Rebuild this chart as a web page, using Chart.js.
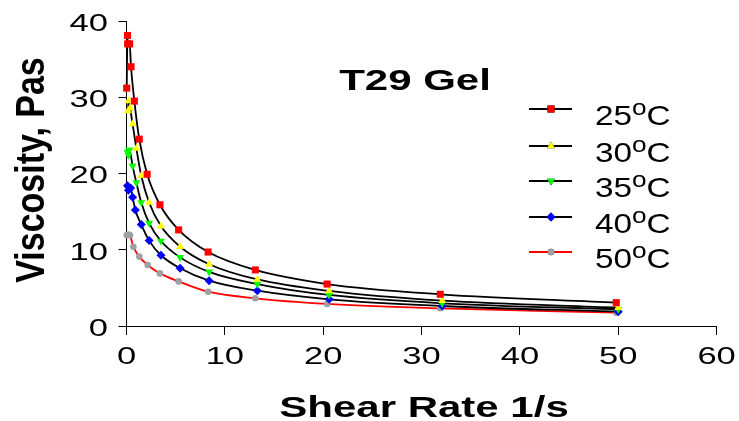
<!DOCTYPE html>
<html>
<head>
<meta charset="utf-8">
<script src="https://cdn.jsdelivr.net/npm/chart.js@4"></script>
<style>
    html, body { margin: 0; padding: 0; background: #fff; }
    #box { width: 739px; height: 421px; position: relative; }
</style>
</head>
<body>
<div id="box"><canvas id="graficoViscosidade"></canvas></div>
<script>
// shear rate (1/s) and viscosity (Pa.s) for each temperature
const shear25 = [0.02, 0.1, 0.12, 0.32, 0.46, 0.8, 1.3, 2.1, 3.4, 5.3, 8.3, 13.1, 20.4, 31.9, 49.8];
const visc25 = [31.2, 38.1, 37.0, 37.0, 34.0, 29.5, 24.5, 19.9, 15.9, 12.6, 9.7, 7.35, 5.5, 4.16, 3.06];

const shear30 = [0.15, 0.2, 0.36, 0.62, 1.0, 1.5, 2.3, 3.5, 5.45, 8.4, 13.3, 20.6, 32.1, 50];
const visc30 = [28.2, 29.5, 28.6, 26.5, 23.3, 19.7, 16.2, 13.1, 10.4, 8.1, 6.1, 4.6, 3.32, 2.4];

const shear35 = [0.1, 0.2, 0.3, 0.62, 1.0, 1.5, 2.3, 3.5, 5.45, 8.4, 13.3, 20.6, 32.1, 50];
const visc35 = [22.8, 22.4, 23.1, 21.0, 18.8, 16.2, 13.5, 11.15, 9.0, 7.1, 5.5, 4.07, 2.98, 2.2];

const shear40 = [0.1, 0.2, 0.42, 0.62, 0.9, 1.5, 2.3, 3.5, 5.45, 8.4, 13.3, 20.6, 32.1, 50];
const visc40 = [18.4, 17.8, 18.1, 16.9, 15.2, 13.3, 11.2, 9.28, 7.58, 5.95, 4.63, 3.5, 2.62, 1.88];

const shear50 = [0.03, 0.2, 0.35, 0.7, 1.3, 2.15, 3.4, 5.3, 8.3, 13.1, 20.4, 31.9, 49.8];
const visc50 = [11.9, 12.0, 11.9, 10.4, 9.1, 8.0, 6.9, 5.85, 4.5, 3.63, 2.9, 2.32, 1.75];

const temperatures = ['25', '30', '35', '40', '50'];
const xTicks = [0, 10, 20, 30, 40, 50, 60];
const yTicks = [0, 10, 20, 30, 40];

const FONT = '"Liberation Sans", Arial, sans-serif';

function pares(xs, ys) {
    return xs.map((x, i) => ({ x: x, y: ys[i] }));
}

function serie(label, xs, ys, lineColor, markerColor, style, radius, rotation) {
    return {
        label: label,
        data: pares(xs, ys),
        borderColor: lineColor,
        borderWidth: 1.8,
        cubicInterpolationMode: 'monotone',
        pointStyle: style,
        pointRadius: radius,
        pointRotation: rotation || 0,
        pointBackgroundColor: markerColor,
        pointBorderWidth: 0,
        clip: false
    };
}

// text squeezed/widened horizontally
function texto(ctx, str, x, y, sx, align) {
    ctx.save();
    ctx.translate(x, y);
    ctx.scale(sx, 1);
    ctx.textAlign = align;
    ctx.textBaseline = 'alphabetic';
    ctx.fillText(str, 0, 0);
    ctx.restore();
}

const textos = {
    id: 'textos',
    afterDraw(chart) {
        const ctx = chart.ctx;
        const sx = chart.scales.x;
        const sy = chart.scales.y;
        ctx.save();
        ctx.fillStyle = '#000';

        // tick labels
        ctx.font = '24.7px ' + FONT;
        yTicks.forEach(v => {
            texto(ctx, String(v), 108, sy.getPixelForValue(v) + 9.9, 1.4, 'right');
        });
        xTicks.forEach(v => {
            texto(ctx, String(v), sx.getPixelForValue(v), 364, 1.4, 'center');
        });

        // titles
        ctx.font = 'bold 30px ' + FONT;
        texto(ctx, 'T29 Gel', 415, 90, 1.4, 'center');
        texto(ctx, 'Shear Rate 1/s', 424, 417, 1.4, 'center');

        ctx.save();
        ctx.font = 'bold 34px ' + FONT;
        ctx.translate(44, 170);
        ctx.rotate(-Math.PI / 2);
        ctx.scale(1, 1.18);
        ctx.textAlign = 'center';
        ctx.textBaseline = 'alphabetic';
        ctx.fillText('Viscosity, Pas', 0, 0);
        ctx.restore();

        // legend
        const linhas = [109, 146, 181, 217, 252];
        chart.data.datasets.forEach((ds, i) => {
            const y = linhas[i];
            ctx.strokeStyle = ds.borderColor;
            ctx.lineWidth = 1.8;
            ctx.beginPath();
            ctx.moveTo(529, y);
            ctx.lineTo(572, y);
            ctx.stroke();
            Chart.helpers.drawPoint(ctx, {
                pointStyle: ds.pointStyle,
                radius: ds.pointRadius,
                rotation: ds.pointRotation,
                borderWidth: 0,
                backgroundColor: ds.pointBackgroundColor
            }, 551, y);
            ctx.fillStyle = ds.pointBackgroundColor;
            ctx.fill();

            ctx.fillStyle = '#000';
            ctx.font = '28px ' + FONT;
            const larg = ctx.measureText(temperatures[i]).width * 1.19;
            texto(ctx, temperatures[i], 595, y + 15.7, 1.19, 'left');
            ctx.font = '22px ' + FONT;
            const largO = ctx.measureText('o').width * 1.19;
            texto(ctx, 'o', 595 + larg, y + 5.7, 1.19, 'left');
            ctx.font = '28px ' + FONT;
            texto(ctx, 'C', 595 + larg + largO, y + 15.7, 1.19, 'left');
        });

        ctx.restore();
    }
};

const ctx = document.getElementById('graficoViscosidade').getContext('2d');

new Chart(ctx, {
    type: 'line',
    data: {
        datasets: [
            serie('25', shear25, visc25, '#000000', '#ff0000', 'rect', 5),
            serie('30', shear30, visc30, '#000000', '#ffff00', 'triangle', 4.6),
            serie('35', shear35, visc35, '#000000', '#00ff00', 'triangle', 4.6, 180),
            serie('40', shear40, visc40, '#000000', '#0000ff', 'rectRot', 4.5),
            serie('50', shear50, visc50, '#ff0000', '#a0a0a0', 'circle', 3.3)
        ]
    },
    options: {
        responsive: true,
        maintainAspectRatio: false,
        animation: false,
        layout: { padding: { left: 0, right: 22.4, top: 21, bottom: 0 } },
        plugins: {
            legend: { display: false },
            tooltip: { enabled: false }
        },
        scales: {
            x: {
                type: 'linear',
                min: 0,
                max: 60,
                afterBuildTicks: s => { s.ticks = xTicks.map(v => ({ value: v })); },
                afterFit: s => { s.height = 95; },
                ticks: { display: false },
                grid: { drawOnChartArea: false, tickLength: 9, tickColor: '#000', tickWidth: 1 },
                border: { color: '#000', width: 1 }
            },
            y: {
                type: 'linear',
                min: 0,
                max: 40,
                afterBuildTicks: s => { s.ticks = yTicks.map(v => ({ value: v })); },
                afterFit: s => { s.width = 126.5; },
                ticks: { display: false },
                grid: { drawOnChartArea: false, tickLength: 8, tickColor: '#000', tickWidth: 1 },
                border: { color: '#000', width: 1 }
            }
        }
    },
    plugins: [textos]
});
</script>
</body>
</html>
